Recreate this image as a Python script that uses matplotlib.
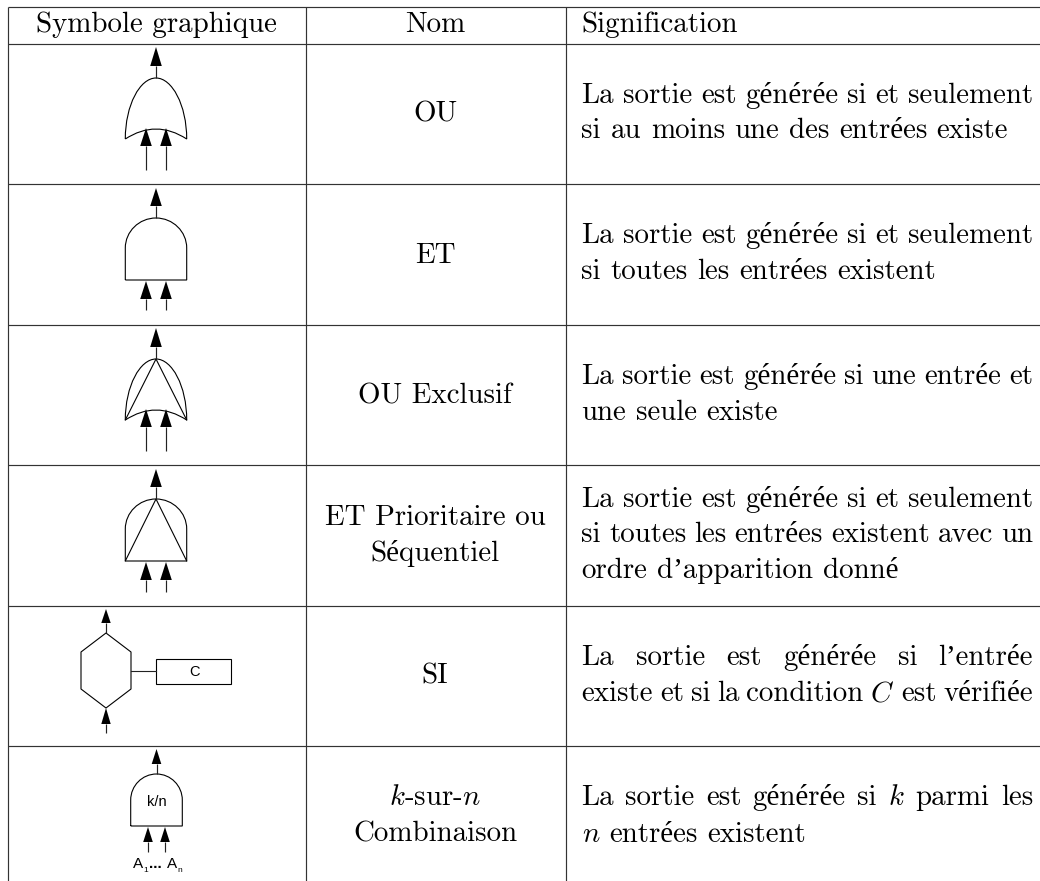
import matplotlib
matplotlib.use('Agg')
import matplotlib.pyplot as plt
from matplotlib.path import Path
from matplotlib.patches import PathPatch, Polygon, Rectangle

plt.rcParams['font.family'] = ['cmr10', 'Liberation Serif']
plt.rcParams['mathtext.fontset'] = 'cm'
plt.rcParams['axes.formatter.use_mathtext'] = True

# table grid, in image pixels
col_lines = [7.5, 305.5, 565.5]
row_lines = [6.5, 43.5, 183.5, 324.5, 464.5, 605.5, 745.5]

header = ['Symbole graphique', 'Nom', 'Signification']
names = [
    [('OU', 122)],
    [('ET', 263)],
    [('OU Exclusif', 403)],
    [('ET Prioritaire ou', 525), ('Séquentiel', 561)],
    [('SI', 683)],
    [('$k$-sur-$n$', 805), ('Combinaison', 842)],
]
# (words, baseline, justified)
meanings = [
    ('La sortie est générée si et seulement', 103, True),
    ('si au moins une des entrées existe', 138, False),
    ('La sortie est générée si et seulement', 243, True),
    ('si toutes les entrées existent', 279, False),
    ('La sortie est générée si une entrée et', 384, True),
    ('une seule existe', 420, False),
    ('La sortie est générée si et seulement', 507, True),
    ('si toutes les entrées existent avec un', 542, True),
    ("ordre d’apparition donné", 578, False),
    ("La sortie est générée si l’entrée", 665, True),
    ('existe et si la condition $C$ est vérifiée', 701, True),
    ('La sortie est générée si $k$ parmi les', 805, True),
    ('$n$ entrées existent', 842, False),
]

FS = 20.85
TEXT_LEFT = 581.5
TEXT_RIGHT = 1033
NATURAL_GAP = 9.6

fig = plt.figure(figsize=(10.40, 8.81), dpi=100)
ax = fig.add_axes([0, 0, 1, 1])
ax.set_xlim(0, 1040)
ax.set_ylim(881, 0)
ax.axis('off')


def arrow(x, tip, base, end, half):
    ax.add_patch(Polygon([(x, tip), (x - half, base), (x + half, base)], fc='black', ec='none'))
    ax.plot([x, x], [base, end], color='#222222', lw=0.85, solid_capstyle='butt')


def outline(verts, codes):
    ax.add_patch(PathPatch(Path(verts, codes), fc='none', ec='black', lw=0.8))


def or_gate(x, top):
    w = 30.7
    verts = [(x - w, top + 61), (x - w, top + 27), (x - 16, top), (x, top),
             (x + 16, top), (x + w, top + 27), (x + w, top + 61),
             (x, top + 41), (x - w, top + 61)]
    codes = [Path.MOVETO] + [Path.CURVE4] * 6 + [Path.CURVE3] * 2
    outline(verts, codes)


def and_gate(x, top, w, arc, bottom):
    k = 0.55
    verts = [(x - w, top + bottom), (x - w, top + arc), (x - w, top + arc * (1 - k)),
             (x - w * k, top), (x, top), (x + w * k, top), (x + w, top + arc * (1 - k)),
             (x + w, top + arc), (x + w, top + bottom), (x - w, top + bottom)]
    codes = [Path.MOVETO, Path.LINETO] + [Path.CURVE4] * 6 + [Path.LINETO, Path.LINETO]
    outline(verts, codes)


def triangle(x, top, w, h):
    ax.plot([x - w, x, x + w], [top + h, top, top + h], color='black', lw=0.8)


# grid
for y in row_lines:
    ax.plot([col_lines[0], 1040], [y, y], color='#333333', lw=0.85, solid_capstyle='butt')
for x in col_lines:
    ax.plot([x, x], [row_lines[0], 881], color='#333333', lw=0.85, solid_capstyle='butt')

# header and names
ax.text(156, 31.5, header[0], fontsize=FS, ha='center', va='baseline')
ax.text(435, 31.5, header[1], fontsize=FS, ha='center', va='baseline')
ax.text(TEXT_LEFT, 31.5, header[2], fontsize=FS, ha='left', va='baseline')
for row in names:
    for label, base in row:
        ax.text(435, base, label, fontsize=FS, ha='center', va='baseline')

# meanings, word by word so the spaces can stretch on justified lines
fig.canvas.draw()
rend = fig.canvas.get_renderer()
for line, base, justified in meanings:
    words = line.split(' ')
    items = [ax.text(0, base, w, fontsize=FS, ha='left', va='baseline') for w in words]
    widths = [t.get_window_extent(rend).width for t in items]
    gap = NATURAL_GAP
    if justified:
        gap = (TEXT_RIGHT - TEXT_LEFT - sum(widths)) / (len(words) - 1)
    x = TEXT_LEFT
    for t, w in zip(items, widths):
        t.set_x(x)
        x += w + gap

# OU
or_gate(156, 78)
arrow(156, 47, 66, 78, 5.8)
for x in [146, 166]:
    arrow(x, 128, 146, 170, 5.8)

# ET
and_gate(156, 218, 30.7, 30, 62)
arrow(156, 188, 206, 218, 5.8)
for x in [146, 166]:
    arrow(x, 281, 299, 310, 5.8)

# OU exclusif
or_gate(156, 359)
triangle(156, 359, 30.7, 61)
arrow(156, 328, 347, 359, 5.8)
for x in [146, 166]:
    arrow(x, 409, 427, 451, 5.8)

# ET prioritaire
and_gate(156, 499, 30.7, 30, 62)
triangle(156, 499, 30.7, 62)
arrow(156, 469, 487, 499, 5.8)
for x in [146, 166]:
    arrow(x, 562, 580, 592, 5.8)

# SI
hexagon = [(106, 633), (131, 652), (131, 689), (106, 708), (81, 689), (81, 652)]
ax.add_patch(Polygon(hexagon, fc='none', ec='black', lw=0.8))
arrow(106, 609, 623, 633, 4.7)
arrow(106, 708, 724, 733, 4.7)
ax.plot([131, 156], [671, 671], color='#222222', lw=0.8)
ax.add_patch(Rectangle((156, 658.5), 75, 25, fc='white', ec='black', lw=0.8))
ax.text(194, 671, 'C', family='Liberation Sans', fontsize=10.5, ha='center', va='center_baseline')

# k sur n
and_gate(156.5, 774, 25.8, 26, 52)
arrow(156.5, 749, 764, 774, 4.8)
for x in [148, 165]:
    arrow(x, 827, 842, 852, 4.8)
ax.text(156.5, 800.5, 'k/n', family='Liberation Sans', fontsize=10.5, ha='center', va='center_baseline')
ax.text(132.5, 868, 'A', family='Liberation Sans', fontsize=11, ha='left', va='baseline')
ax.text(143, 872, '1', family='Liberation Sans', fontsize=6, ha='left', va='baseline')
ax.text(155.5, 868, '...', family='Liberation Sans', fontsize=11, fontweight='bold', ha='center', va='baseline')
ax.text(166.5, 868, 'A', family='Liberation Sans', fontsize=11, ha='left', va='baseline')
ax.text(177.5, 872, 'n', family='Liberation Sans', fontsize=6, ha='left', va='baseline')

fig.savefig('out.png', dpi=100)
